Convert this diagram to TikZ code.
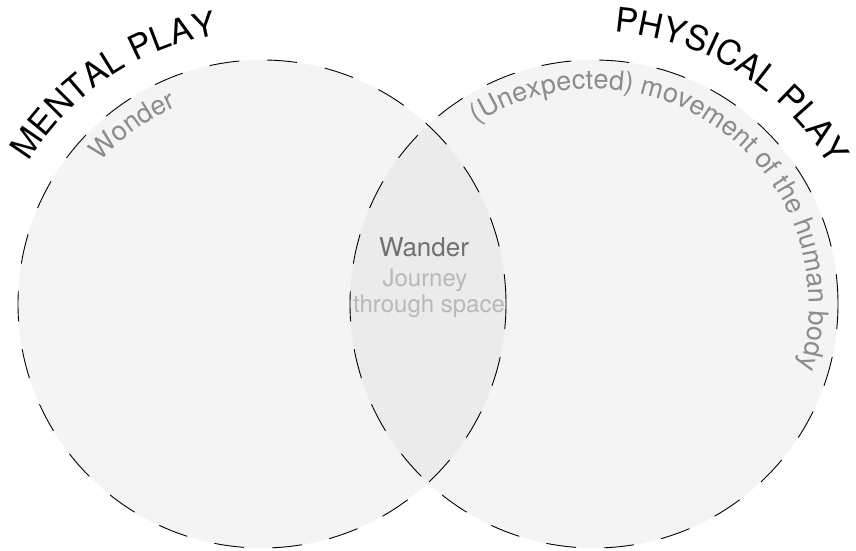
\documentclass[tikz,border=0pt]{standalone}
\usepackage{fontspec}
\setmainfont{TeX Gyre Heros}
\usetikzlibrary{decorations.text}
\definecolor{setfill}{HTML}{F4F4F4}
\definecolor{overlapfill}{HTML}{EBEBEB}
\definecolor{softtext}{HTML}{8C8C8C}
\definecolor{midtext}{HTML}{707070}
\definecolor{paletext}{HTML}{B8B8B8}
\newcommand{\titlesize}{\fontsize{34}{34}\selectfont}
\newcommand{\notesize}{\fontsize{27}{27}\selectfont}

\begin{document}
\begin{tikzpicture}[x=1pt, y=1pt,
          ring/.style={draw=black, line width=0.9pt, dash pattern=on 30pt off 28pt},
          arctext/.style={decorate, decoration={text along path,
            text align=center, text={#1}}}]
        \useasboundingbox (0,0) rectangle (856,551);
        \coordinate (mc) at (262,247);
        \coordinate (pc) at (594,247);
        % the two sets and their overlap
        \fill[setfill] (mc) circle[radius=244];
        \fill[setfill] (pc) circle[radius=244];
        \begin{scope}
          \clip (mc) circle[radius=244];
          \fill[overlapfill] (pc) circle[radius=244];
        \end{scope}
        \draw[ring] (mc) circle[radius=244];
        \draw[ring] (pc) circle[radius=244];
        % curved labels
        \path[arctext={|\titlesize|MENTAL PLAY}]
          ([shift={(180:273)}]mc) arc[start angle=180, end angle=68, radius=273];
        \path[arctext={|\titlesize|PHYSICAL PLAY}]
          ([shift={(114:273)}]pc) arc[start angle=114, end angle=2, radius=273];
        \path[arctext={|\notesize\color{softtext}|Wonder}]
          ([shift={(180:215)}]mc) arc[start angle=180, end angle=72, radius=215];
        \path[arctext={|\notesize\color{softtext}|(Unexpected) movement of the human body}]
          ([shift={(152:215)}]pc) arc[start angle=152, end angle=-46.4, radius=215];
        % overlap text
        \node[font=\fontsize{26}{26}\selectfont, text=midtext, anchor=base]
          (wander) at (424,294) {Wander};
        \node[font=\fontsize{24}{24}\selectfont, text=paletext, anchor=base]
          (journey) at (425,264) {Journey};
        \node[font=\fontsize{24}{24}\selectfont, text=paletext, anchor=base]
          (space) at (429,238) {through space};
      \end{tikzpicture}
\end{document}
